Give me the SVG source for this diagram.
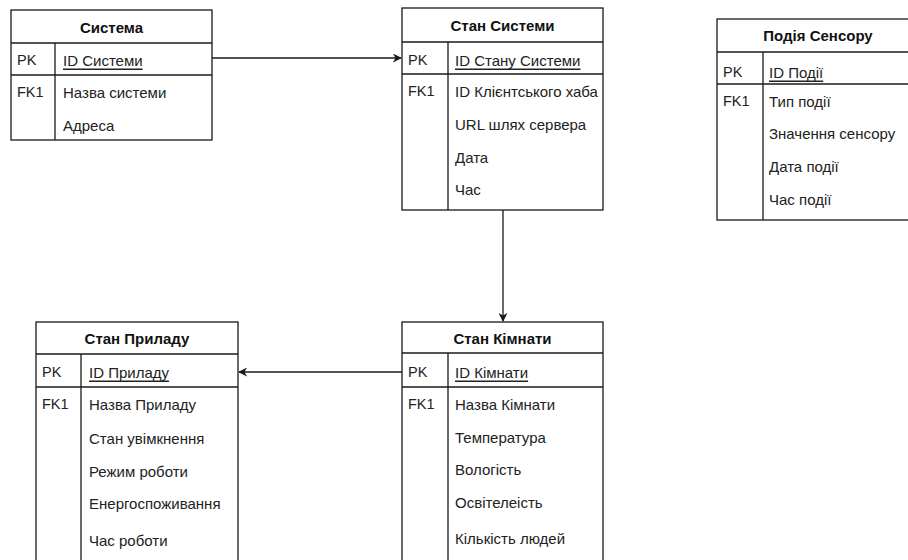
<svg xmlns="http://www.w3.org/2000/svg" width="908" height="560" viewBox="0 0 908 560">
  <style>
    .box { fill: #ffffff; stroke: #1a1a1a; stroke-width: 1.3; }
    .ln { stroke: #1a1a1a; stroke-width: 1.3; fill: none; }
    .hdr { font-family: "Liberation Sans", Arial, sans-serif; font-size: 15px; font-weight: bold; fill: #111; text-anchor: middle; dominant-baseline: central; }
    .key { font-family: "Liberation Sans", Arial, sans-serif; font-size: 14.5px; fill: #222; dominant-baseline: central; }
    .fld { font-family: "Liberation Sans", Arial, sans-serif; font-size: 15px; fill: #222; dominant-baseline: central; }
    .pk { text-decoration: underline; }
    .edge { stroke: #1a1a1a; stroke-width: 1.3; fill: none; }
  </style>
  <defs>
    <marker id="arrow" viewBox="0 0 10 10" refX="9" refY="5" markerWidth="9" markerHeight="9" markerUnits="userSpaceOnUse" orient="auto">
      <path d="M0,0 L10,5 L0,10 L3,5 Z" fill="#1a1a1a"/>
    </marker>
  </defs>
  <rect width="908" height="560" fill="#ffffff"/>

  <!-- Система -->
  <g id="sistema">
    <rect class="box" x="11" y="10" width="201" height="130"/>
    <line class="ln" x1="11" y1="43" x2="212" y2="43"/>
    <line class="ln" x1="11" y1="75" x2="212" y2="75"/>
    <line class="ln" x1="55" y1="43" x2="55" y2="140"/>
    <text class="hdr" x="111.5" y="27">Система</text>
    <text class="key" x="17" y="60">PK</text>
    <text class="fld pk" x="63" y="60">ID Системи</text>
    <text class="key" x="17" y="92">FK1</text>
    <text class="fld" x="63" y="92">Назва системи</text>
    <text class="fld" x="63" y="125">Адреса</text>
  </g>

  <!-- Стан Системи -->
  <g id="stan-systemy">
    <rect class="box" x="402" y="8" width="201" height="202"/>
    <line class="ln" x1="402" y1="42" x2="603" y2="42"/>
    <line class="ln" x1="402" y1="74" x2="603" y2="74"/>
    <line class="ln" x1="448" y1="42" x2="448" y2="210"/>
    <text class="hdr" x="502.5" y="25">Стан Системи</text>
    <text class="key" x="408" y="60">PK</text>
    <text class="fld pk" x="455" y="60">ID Стану Системи</text>
    <text class="key" x="408" y="91">FK1</text>
    <text class="fld" x="455" y="91">ID Клієнтського хаба</text>
    <text class="fld" x="455" y="124">URL шлях сервера</text>
    <text class="fld" x="455" y="157">Дата</text>
    <text class="fld" x="455" y="189">Час</text>
  </g>

  <!-- Подія Сенсору -->
  <g id="podiya-sensoru">
    <rect class="box" x="717" y="19" width="202" height="201"/>
    <line class="ln" x1="717" y1="52" x2="919" y2="52"/>
    <line class="ln" x1="717" y1="84" x2="919" y2="84"/>
    <line class="ln" x1="763" y1="52" x2="763" y2="220"/>
    <text class="hdr" x="818" y="35">Подія Сенсору</text>
    <text class="key" x="723" y="72">PK</text>
    <text class="fld pk" x="769" y="72">ID Події</text>
    <text class="key" x="723" y="101">FK1</text>
    <text class="fld" x="769" y="101">Тип події</text>
    <text class="fld" x="769" y="133">Значення сенсору</text>
    <text class="fld" x="769" y="166">Дата події</text>
    <text class="fld" x="769" y="199">Час події</text>
  </g>

  <!-- Стан Приладу -->
  <g id="stan-pryladu">
    <rect class="box" x="36" y="322" width="202" height="250"/>
    <line class="ln" x1="36" y1="354" x2="238" y2="354"/>
    <line class="ln" x1="36" y1="387" x2="238" y2="387"/>
    <line class="ln" x1="81" y1="354" x2="81" y2="572"/>
    <text class="hdr" x="137" y="338">Стан Приладу</text>
    <text class="key" x="42" y="372">PK</text>
    <text class="fld pk" x="89" y="372">ID Приладу</text>
    <text class="key" x="42" y="404">FK1</text>
    <text class="fld" x="89" y="404">Назва Приладу</text>
    <text class="fld" x="89" y="438">Стан увімкнення</text>
    <text class="fld" x="89" y="471">Режим роботи</text>
    <text class="fld" x="89" y="503">Енергоспоживання</text>
    <text class="fld" x="89" y="540">Час роботи</text>
  </g>

  <!-- Стан Кімнати -->
  <g id="stan-kimnaty">
    <rect class="box" x="402" y="322" width="201" height="250"/>
    <line class="ln" x1="402" y1="353" x2="603" y2="353"/>
    <line class="ln" x1="402" y1="387" x2="603" y2="387"/>
    <line class="ln" x1="448" y1="353" x2="448" y2="572"/>
    <text class="hdr" x="502.5" y="338">Стан Кімнати</text>
    <text class="key" x="408" y="372">PK</text>
    <text class="fld pk" x="455" y="372">ID Кімнати</text>
    <text class="key" x="408" y="404">FK1</text>
    <text class="fld" x="455" y="404">Назва Кімнати</text>
    <text class="fld" x="455" y="437">Температура</text>
    <text class="fld" x="455" y="469">Вологість</text>
    <text class="fld" x="455" y="502">Освітелеість</text>
    <text class="fld" x="455" y="538">Кількість людей</text>
  </g>

  <!-- Connectors -->
  <g id="connectors">
    <path class="edge" d="M212,58 L401,58" marker-end="url(#arrow)"/>
    <path class="edge" d="M503,210 L503,321" marker-end="url(#arrow)"/>
    <path class="edge" d="M402,372 L239,372" marker-end="url(#arrow)"/>
  </g>
</svg>
